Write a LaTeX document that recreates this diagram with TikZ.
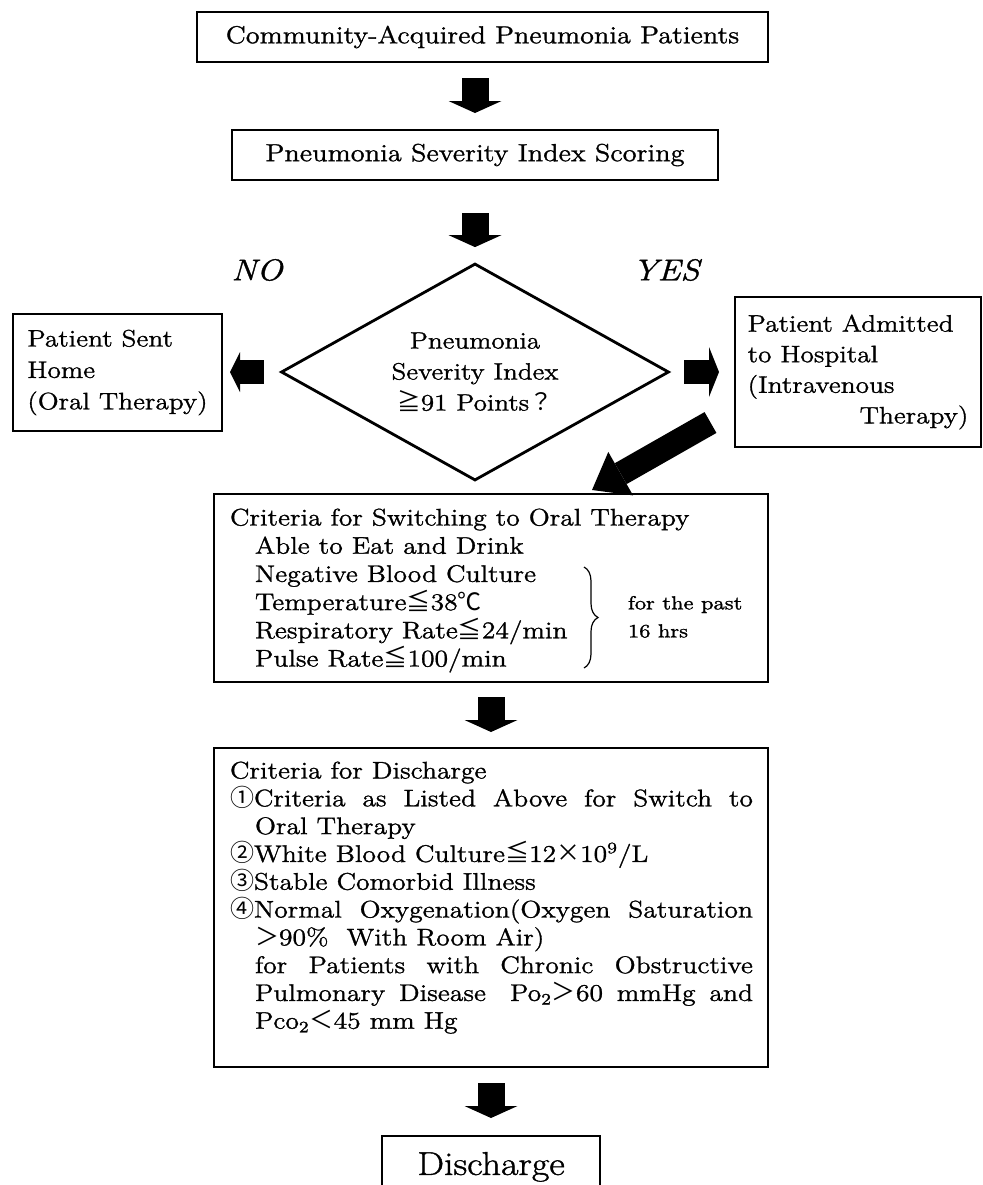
\documentclass[tikz,border=0pt]{standalone}
\usepackage{fontspec}
\setmainfont{Latin Modern Roman}[FakeStretch=1.15, FakeBold=1.2]
\newfontfamily\symfont{Noto Sans CJK JP}
\usetikzlibrary{positioning,arrows.meta,shapes.geometric,decorations.pathreplacing}
\newcommand{\sym}[1]{{\symfont #1}}
\newcommand{\fullline}[2]{\makebox[#1][s]{#2}}

\begin{document}
\lineskiplimit=-20pt
\begin{tikzpicture}[
    x=0.5pt, y=-0.5pt,
    font=\fontsize{12}{14.1}\selectfont,
    box/.style={draw, line width=0.9pt, inner sep=0pt, outer sep=0pt},
    txt/.style={inner sep=0pt, outer sep=0pt, align=left, anchor=north west},
    blockarrow/.style={line width=13.5pt, -{Triangle[length=6pt 0 0, width=26.5pt 0 0, line width=0pt 0 0]}},
    sidearrow/.style={line width=12pt, -{Triangle[length=5pt 0 0, width=#1 0 0, line width=0pt 0 0]}},
    answer/.style={font=\fontsize{15}{17}\selectfont\itshape}
]
\useasboundingbox (0,0) rectangle (983,1185);
\clip (0,0) rectangle (983,1185);

% first steps
\node[box, minimum width=285.5pt, minimum height=25pt, font=\fontsize{12.3}{14}\selectfont] (cap) at (482.5,37) {Community-Acquired Pneumonia Patients};
\node[box, minimum width=243pt, minimum height=25pt, below=34pt of cap, xshift=-3.75pt, font=\fontsize{12.35}{14}\selectfont] (psi) {Pneumonia Severity Index Scoring};

% decision
\node[draw, diamond, line width=1.4pt, aspect=1.79, minimum width=194pt, minimum height=108.5pt, inner sep=0pt, align=center, font=\fontsize{11.8}{15.5}\selectfont] (check) at (475,372) {Pneumonia\\Severity Index\\\sym{≧}91 Points\sym{？}};
\node[answer] (no) at (257,270) {NO};
\node[answer] (yes) at (666,270) {YES};

\node[box, minimum width=104.5pt, minimum height=58.5pt, align=left, font=\fontsize{11.9}{15.7}\selectfont] (home) at (117.5,372.5) {Patient Sent\\Home\\(Oral Therapy)};
\node[box, minimum width=123pt, minimum height=75pt, align=left, font=\fontsize{11.9}{15.3}\selectfont] (ward) at (858,372) {Patient Admitted\\to Hospital\\(Intravenous\\\hspace*{56pt}Therapy)};

% switch to oral therapy
\node[box, minimum width=277pt, minimum height=94pt] (switch) at (491,588) {};
\node[txt] (switchtext) at ([xshift=8pt, yshift=-7.3pt]switch.north west) {Criteria for Switching to Oral Therapy\\
\hspace*{12.5pt}Able to Eat and Drink\\
\hspace*{12.5pt}Negative Blood Culture\\
\hspace*{12.5pt}Temperature\sym{≦}38\sym{℃}\\
\hspace*{12.5pt}Respiratory Rate\sym{≦}24/min\\
\hspace*{12.5pt}Pulse Rate\sym{≦}100/min};
\draw[decorate, decoration={brace, amplitude=7pt}, line width=0.6pt] (584,567) -- (584,668);
\node[txt, font=\fontsize{9.5}{14}\selectfont] (hours) at (628,596) {for the past\\16 hrs};

% discharge
\node[box, minimum width=277pt, minimum height=159.5pt, below=33pt of switch] (crit) {};
\node[txt, font=\fontsize{12}{13.9}\selectfont] (crittext) at ([xshift=8pt, yshift=-6.8pt]crit.north west) {Criteria for Discharge\\
\fullline{261.5pt}{\sym{①}Criteria as Listed Above for Switch to}\\
\hspace*{12.5pt}Oral Therapy\\
\sym{②}White Blood Culture\sym{≦}12\sym{×}10\textsuperscript{9}/L\\
\sym{③}Stable Comorbid Illness\\
\fullline{261.5pt}{\sym{④}Normal Oxygenation(Oxygen Saturation}\\
\hspace*{12.5pt}\sym{＞}90\%\ \ With Room Air)\\
\hspace*{12.5pt}\fullline{249pt}{for Patients with Chronic Obstructive}\\
\hspace*{12.5pt}\fullline{249pt}{Pulmonary Disease\quad Po\textsubscript{2}\sym{＞}60 mmHg and}\\
\hspace*{12.5pt}Pco\textsubscript{2}\sym{＜}45 mm Hg};
\node[box, minimum width=109pt, inner ysep=8pt, font=\fontsize{16.5}{19}\selectfont, below=34.5pt of crit] (out) {Discharge};

% block arrows
\draw[blockarrow, shorten <=8pt, shorten >=8.5pt] (cap.south -| psi.north) -- (psi.north);
\draw[blockarrow, shorten <=16.5pt, shorten >=7.5pt] (psi.south) -- (check.north);
\draw[sidearrow=20pt, shorten <=8pt, shorten >=4pt] (check.west) -- (home.east |- check.west);
\draw[sidearrow=25pt, shorten <=7pt, shorten >=8pt] (check.east) -- (ward.west |- check.east);
\coordinate (bend) at ([xshift=-12.25pt, yshift=12.25pt]ward.south west);
\coordinate (land) at ([xshift=50.5pt, yshift=2pt]switch.north);
\draw[line width=12pt, -{Triangle[length=16.5pt 0 0, width=25pt 0 0, line width=0pt 0 0]}] (bend) -- (land);
\draw[blockarrow, shorten <=7.5pt, shorten >=8pt] (switch.south) -- (crit.north);
\draw[blockarrow, shorten <=8pt, shorten >=9pt] (crit.south) -- (out.north);

\end{tikzpicture}
\end{document}
